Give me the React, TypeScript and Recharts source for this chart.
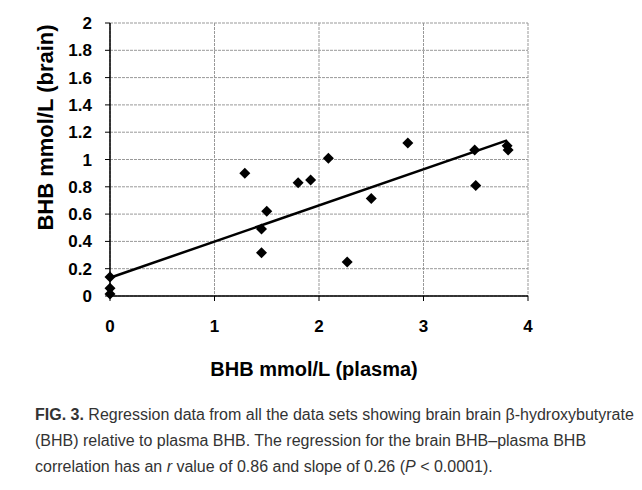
import React from "react";
import {
    ScatterChart,
    Scatter,
    XAxis,
    YAxis,
    CartesianGrid,
    ReferenceLine,
} from "recharts";

// plasma vs brain BHB (mmol/L)
const plasmaBHB = [0, 0, 0, 1.29, 1.45, 1.45, 1.5, 1.8, 1.92, 2.09, 2.27, 2.5, 2.85, 3.49, 3.5, 3.8, 3.81];
const brainBHB = [0.14, 0.056, 0.015, 0.9, 0.49, 0.317, 0.62, 0.83, 0.85, 1.01, 0.25, 0.715, 1.12, 1.07, 0.81, 1.1, 1.07];

// regression line end points
const fitX = [0, 3.8];
const fitY = [0.134, 1.14];

const xTicks = [0, 1, 2, 3, 4];
const yTicks = [0, 0.2, 0.4, 0.6, 0.8, 1, 1.2, 1.4, 1.6, 1.8, 2];

const points = plasmaBHB.map((x, i) => ({ x, y: brainBHB[i] }));

const FONT = "Arial, 'Liberation Sans', sans-serif";

function Diamond({ cx, cy }: any) {
    if (cx == null || cy == null) return null;
    const r = 5.5;
    return (
        <polygon
            points={`${cx},${cy - r} ${cx + r},${cy} ${cx},${cy + r} ${cx - r},${cy}`}
            fill="#000"
        />
    );
}

function YTitle(props: any) {
    const vb = props.viewBox || { x: 0, y: 23, width: 110, height: 273 };
    const x = vb.x + 45;
    const y = vb.y + vb.height / 2 - 32;
    return (
        <text
            x={x}
            y={y}
            transform={`rotate(-90, ${x}, ${y})`}
            textAnchor="middle"
            dominantBaseline="central"
            fontFamily={FONT}
            fontWeight="bold"
            fontSize={22}
            fill="#000"
        >
            BHB mmol/L (brain)
        </text>
    );
}

export default function App() {
    const tickStyle = { fontSize: 17, fontWeight: "bold", fill: "#000", fontFamily: FONT };

    return (
        <div
            style={{
                position: "absolute",
                left: 0,
                top: 0,
                width: 642,
                height: 490,
                background: "#fff",
                fontFamily: FONT,
            }}
        >
            <ScatterChart
                width={642}
                height={390}
                margin={{ top: 23, right: 114, left: 0, bottom: 0 }}
            >
                <CartesianGrid stroke="#999" strokeDasharray="3 1" strokeWidth={1} />
                <XAxis
                    type="number"
                    dataKey="x"
                    domain={[0, 4]}
                    ticks={xTicks}
                    height={94}
                    tick={tickStyle}
                    tickSize={5}
                    tickMargin={19}
                    axisLine={{ stroke: "#000", strokeWidth: 1.5 }}
                    tickLine={{ stroke: "#000" }}
                    label={{
                        value: "BHB mmol/L (plasma)",
                        position: "insideBottom",
                        offset: 14,
                        dx: -5,
                        style: { fontSize: 20, fontWeight: "bold", fill: "#000", fontFamily: FONT },
                    }}
                />
                <YAxis
                    type="number"
                    dataKey="y"
                    domain={[0, 2]}
                    ticks={yTicks}
                    width={110}
                    tick={tickStyle}
                    tickSize={5}
                    tickMargin={13}
                    interval={0}
                    axisLine={{ stroke: "#000", strokeWidth: 1.5 }}
                    tickLine={{ stroke: "#000" }}
                    label={<YTitle />}
                />
                <ReferenceLine
                    segment={[
                        { x: fitX[0], y: fitY[0] },
                        { x: fitX[1], y: fitY[1] },
                    ]}
                    stroke="#000"
                    strokeWidth={2.5}
                    ifOverflow="extendDomain"
                />
                <Scatter data={points} shape={<Diamond />} isAnimationActive={false} />
            </ScatterChart>
            <div
                style={{
                    position: "absolute",
                    left: 35,
                    top: 402,
                    fontSize: 16,
                    lineHeight: "26px",
                    color: "#333",
                    whiteSpace: "nowrap",
                }}
            >
                <b>FIG. 3.</b> Regression data from all the data sets showing brain brain β-hydroxybutyrate
                <br />
                (BHB) relative to plasma BHB. The regression for the brain BHB–plasma BHB
                <br />
                correlation has an <i>r</i> value of 0.86 and slope of 0.26 (<i>P</i> &lt; 0.0001).
            </div>
        </div>
    );
}
